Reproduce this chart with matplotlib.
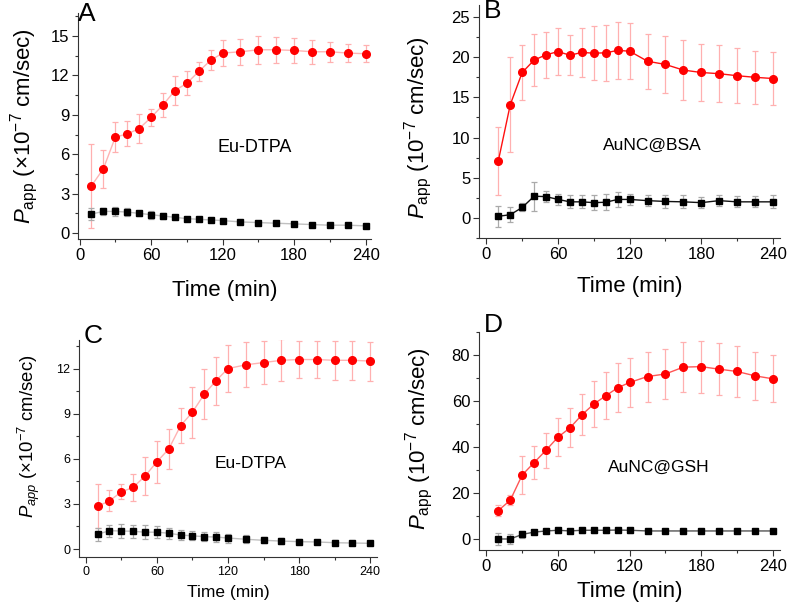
import numpy as np
import matplotlib
matplotlib.use("Agg")
import matplotlib.pyplot as plt
from matplotlib.ticker import MultipleLocator

plt.rcParams['font.family'] = ['Liberation Sans', 'DejaVu Sans']
plt.rcParams['mathtext.fontset'] = 'custom'
plt.rcParams['mathtext.rm'] = 'Liberation Sans'
plt.rcParams['mathtext.it'] = 'Liberation Sans:italic'
plt.rcParams['mathtext.bf'] = 'Liberation Sans:bold'

# sampling times (min)
time = [10, 20, 30, 40, 50, 60, 70, 80, 90, 100, 110, 120,
        135, 150, 165, 180, 195, 210, 225, 240]

# Panel A - Eu-DTPA
a_red = [3.6, 4.9, 7.3, 7.55, 7.95, 8.8, 9.75, 10.85, 11.4, 12.3, 13.15, 13.7,
         13.8, 13.95, 13.95, 13.9, 13.8, 13.8, 13.7, 13.65]
a_red_err = [3.2, 1.45, 1.15, 0.95, 1.1, 0.65, 0.9, 1.1, 0.9, 0.7, 0.75, 1.0,
             1.0, 1.05, 1.0, 0.95, 0.9, 0.75, 0.7, 0.65]
a_blk = [1.45, 1.65, 1.65, 1.6, 1.5, 1.4, 1.3, 1.2, 1.1, 1.05, 1.0, 0.95,
         0.85, 0.8, 0.75, 0.7, 0.65, 0.6, 0.6, 0.55]
a_blk_err = [0.45, 0.25, 0.35, 0.3, 0.2, 0.3, 0.25, 0.15, 0.15, 0.1, 0.15, 0.1,
             0.1, 0.1, 0.1, 0.1, 0.1, 0.1, 0.1, 0.1]

# Panel B - AuNC@BSA
b_red = [7.1, 14.1, 18.1, 19.65, 20.3, 20.7, 20.25, 20.6, 20.5, 20.55, 20.85, 20.75,
         19.5, 19.1, 18.4, 18.1, 17.95, 17.7, 17.5, 17.35]
b_red_err = [4.2, 5.9, 3.4, 3.2, 2.85, 2.9, 2.5, 3.0, 3.35, 3.45, 3.5, 3.5,
             3.45, 3.5, 3.7, 3.6, 3.55, 3.4, 3.3, 3.35]
b_blk = [0.2, 0.4, 1.3, 2.7, 2.65, 2.3, 2.0, 2.0, 1.9, 1.95, 2.3, 2.3,
         2.15, 2.05, 2.0, 1.9, 2.15, 2.0, 2.0, 2.0]
b_blk_err = [1.3, 0.9, 0.5, 1.8, 0.7, 0.7, 0.8, 0.8, 0.9, 1.0, 0.9, 0.7,
             0.7, 0.8, 0.8, 0.7, 0.7, 0.7, 0.7, 0.8]

# Panel C - Eu-DTPA
c_red = [2.85, 3.2, 3.8, 4.1, 4.85, 5.8, 6.65, 8.2, 9.1, 10.3, 11.2, 12.0,
         12.25, 12.4, 12.55, 12.6, 12.6, 12.55, 12.55, 12.5]
c_red_err = [1.45, 0.7, 0.5, 0.9, 1.25, 1.4, 1.35, 1.15, 1.7, 1.65, 1.6, 1.55,
             1.5, 1.45, 1.4, 1.25, 1.25, 1.3, 1.3, 1.3]
c_blk = [0.98, 1.22, 1.2, 1.18, 1.12, 1.12, 1.05, 0.93, 0.88, 0.82, 0.8, 0.73,
         0.65, 0.58, 0.53, 0.49, 0.47, 0.42, 0.40, 0.38]
c_blk_err = [0.45, 0.4, 0.45, 0.45, 0.45, 0.4, 0.35, 0.35, 0.3, 0.3, 0.3, 0.3,
             0.25, 0.2, 0.2, 0.15, 0.15, 0.15, 0.1, 0.1]

# Panel D - AuNC@GSH
d_red = [12.4, 16.9, 27.9, 33.3, 38.7, 44.4, 48.4, 54.1, 58.8, 62.4, 65.9, 68.2,
         70.8, 71.9, 74.9, 75.1, 74.0, 73.0, 71.1, 69.8]
d_red_err = [2.3, 2.2, 8.3, 7.1, 7.7, 8.3, 8.5, 9.0, 9.9, 10.3, 10.6, 10.6,
             10.9, 10.8, 10.9, 11.3, 11.4, 11.1, 10.6, 10.2]
d_blk = [0.0, 0.0, 2.0, 3.0, 3.5, 3.8, 3.5, 3.8, 3.8, 3.8, 3.9, 3.8,
         3.5, 3.5, 3.5, 3.5, 3.5, 3.5, 3.5, 3.5]
d_blk_err = [2.8, 2.2, 1.5, 1.0, 1.0, 1.0, 1.0, 1.0, 1.0, 1.0, 1.0, 1.0,
             1.0, 1.0, 1.0, 1.0, 1.0, 1.0, 1.0, 1.0]

W, H = 787, 608
fig = plt.figure(figsize=(W / 100, H / 100), dpi=100)


def px_axes(l, t, r, b):
    return fig.add_axes([l / W, 1 - b / H, (r - l) / W, (b - t) / H])


def panel(ax, red, red_err, blk, blk_err, red_line, blk_line, ylim, xlim, ymaj,
          letter, letter_px, name, name_xy, ylabel, fs_tick, fs_xlab, fs_ylab,
          fs_name, ylab_xy, xpad):
    ax.errorbar(time, red, yerr=red_err, fmt='none', ecolor='#ffb0b0',
                elinewidth=0.9, capsize=2.2, capthick=0.9, zorder=1)
    ax.errorbar(time, blk, yerr=blk_err, fmt='none', ecolor='#aaaaaa',
                elinewidth=0.9, capsize=2.2, capthick=0.9, zorder=1)
    ax.plot(time, red, '-', color=red_line, lw=1.0, zorder=2)
    ax.plot(time, blk, '-', color=blk_line, lw=1.0, zorder=2)
    ax.plot(time, red, 'o', color='#ff0000', ms=5.5, mec='#ff0000', zorder=3)
    ax.plot(time, blk, 's', color='black', ms=4.3, zorder=3)
    ax.set_xlim(*xlim)
    ax.set_ylim(*ylim)
    ax.xaxis.set_major_locator(MultipleLocator(60))
    ax.xaxis.set_minor_locator(MultipleLocator(30))
    ax.yaxis.set_major_locator(MultipleLocator(ymaj))
    ax.yaxis.set_minor_locator(MultipleLocator(ymaj / 2))
    for s in ['top', 'right']:
        ax.spines[s].set_visible(False)
    for s in ['left', 'bottom']:
        ax.spines[s].set_linewidth(0.8)
        ax.spines[s].set_color('#333333')
    ax.tick_params(which='major', direction='out', length=4.3, width=0.8,
                   labelsize=fs_tick, pad=2, color='#333333')
    ax.tick_params(which='minor', direction='out', length=2.3, width=0.8,
                   color='#333333')
    ax.set_xlabel('Time (min)', fontsize=fs_xlab, labelpad=xpad)
    ax.set_ylabel(ylabel, fontsize=fs_ylab)
    ax.yaxis.set_label_coords(*ylab_xy)
    ax.text(name_xy[0], name_xy[1], name, fontsize=fs_name, ha='center',
            va='center')
    fig.text(letter_px[0] / W, 1 - letter_px[1] / H, letter, fontsize=19,
             ha='left', va='center')


lab_big = r'$P_{\mathrm{app}}$' + ' (×10$^{-7}$ cm/sec)'
lab_b = r'$P_{\mathrm{app}}$' + ' (10$^{-7}$ cm/sec)'
lab_c = r'$P_{app}$' + ' (×10$^{-7}$ cm/sec)'

axA = px_axes(78, 13, 371, 239)
panel(axA, a_red, a_red_err, a_blk, a_blk_err, '#ffb3b3', '#c0c0c0',
      (-0.45, 16.75), (-1.3, 244.5), 3, 'A', (78, 14), 'Eu-DTPA', (147, 6.55),
      lab_big, 12, 16, 16, 13, (-0.13, 0.5), 12.5)

axB = px_axes(479, 5, 780, 238)
panel(axB, b_red, b_red_err, b_blk, b_blk_err, '#ff1010', '#111111',
      (-2.5, 26.5), (-6.2, 246), 5, 'B', (484, 11), 'AuNC@BSA', (139, 9.0),
      lab_b, 12, 16, 16, 12.5, (-0.15, 0.475), 10)

axC = px_axes(79, 340, 377, 557)
panel(axC, c_red, c_red_err, c_blk, c_blk_err, '#ffb3b3', '#c0c0c0',
      (-0.53, 13.9), (-5.7, 245.7), 3, 'C', (84, 336), 'Eu-DTPA', (139.5, 5.7),
      lab_c, 9, 12.5, 13.3, 12.5, (-0.125, 0.555), 5.5)

axD = px_axes(479, 332, 780, 550)
panel(axD, d_red, d_red_err, d_blk, d_blk_err, '#ff5555', '#555555',
      (-4.8, 90.2), (-6.2, 246), 20, 'D', (484, 325), 'AuNC@GSH', (144.6, 31),
      lab_b, 12, 16, 16, 12.5, (-0.147, 0.51), 5.5)

fig.savefig('out.png', dpi=100)
